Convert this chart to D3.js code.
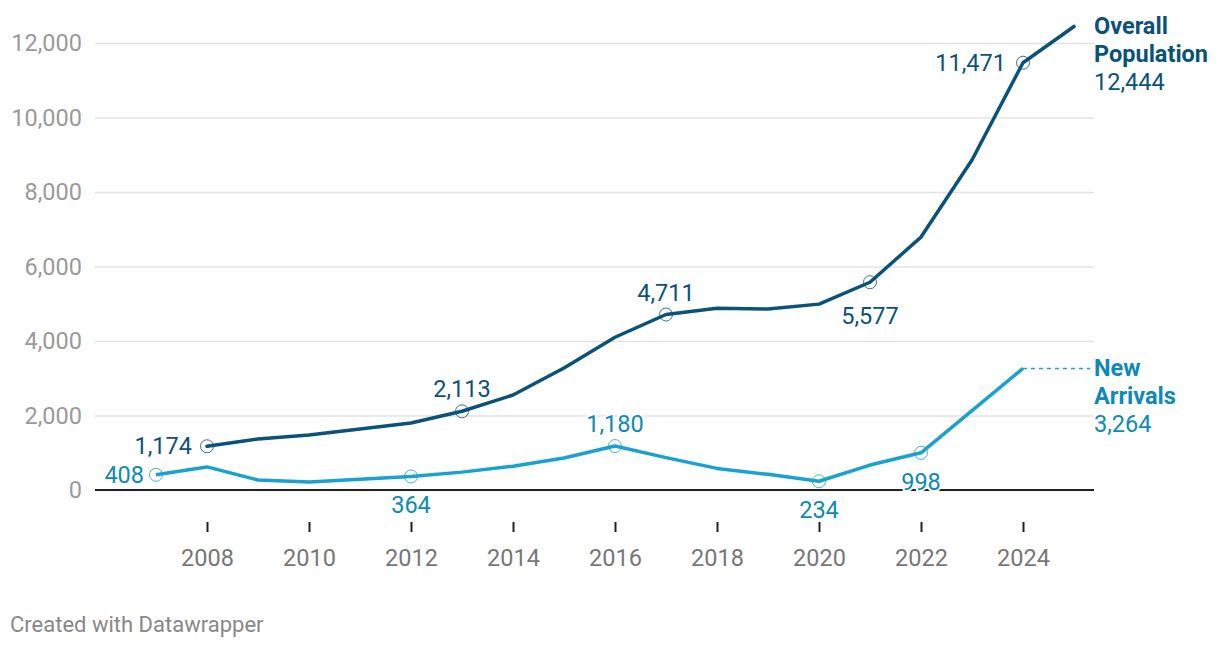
<!DOCTYPE html>
<html>
<head>
<meta charset="utf-8">
<script src="https://cdn.jsdelivr.net/npm/d3@7"></script>
<style>
  body { margin: 0; background: #fff; font-family: Roboto, "Noto Sans", sans-serif; }
  svg text { font-family: Roboto, "Noto Sans", sans-serif; }
</style>
</head>
<body>
<svg id="chart" width="1220" height="648"></svg>
<script>
// data
var popYears = [2008, 2009, 2010, 2011, 2012, 2013, 2014, 2015, 2016, 2017, 2018, 2019, 2020, 2021, 2022, 2023, 2024, 2025];
var popValues = [1174, 1370, 1475, 1640, 1800, 2113, 2550, 3275, 4100, 4711, 4880, 4860, 4990, 5577, 6790, 8860, 11471, 12444];

var arrYears = [2007, 2008, 2009, 2010, 2011, 2012, 2013, 2014, 2015, 2016, 2017, 2018, 2019, 2020, 2021, 2022, 2023, 2024];
var arrValues = [408, 620, 270, 215, 290, 364, 480, 640, 860, 1180, 870, 580, 420, 234, 670, 998, 2130, 3264];

var xTicks = [2008, 2010, 2012, 2014, 2016, 2018, 2020, 2022, 2024];
var yTicks = [0, 2000, 4000, 6000, 8000, 10000, 12000];

// annotated points: [year, value, dx, dy, anchor]
var popNotes = [[2008, 1174, -15, 8, "end"], [2013, 2113, 0, -14, "middle"], [2017, 4711, 0, -14, "middle"],
                [2021, 5577, 0, 42, "middle"], [2024, 11471, -17, 8, "end"]];
var arrNotes = [[2007, 408, -12, 8, "end"], [2012, 364, 0, 37, "middle"], [2016, 1180, 0, -14, "middle"],
                [2020, 234, 0, 37, "middle"], [2022, 998, 0, 37, "middle"]];

var darkBlue = "#0b5279";
var lightBlue = "#19a2d0";
var lightText = "#0e8ab5";

var svg = d3.select("#chart");
var left = 95, right = 1094;

var x = d3.scaleLinear().domain([2007, 2025]).range([156, 1074]);
var y = d3.scaleLinear().domain([0, 12000]).range([490, 43]);
var fmt = d3.format(",");

// gridlines + y labels
var yAxis = svg.append("g")
    .attr("transform", "translate(" + left + ",0)")
    .call(d3.axisLeft(y).tickValues(yTicks).tickSize(-(right - left)).tickFormat(fmt).tickPadding(13));
yAxis.select(".domain").remove();
yAxis.selectAll("line").attr("stroke", "#e3e3e3").attr("stroke-width", 1.5);
yAxis.selectAll("text").attr("fill", "#9a9a9a").style("font-size", "23.5px");

// x axis ticks
var xAxis = svg.append("g")
    .attr("transform", "translate(0,522)")
    .call(d3.axisBottom(x).tickValues(xTicks).tickFormat(d3.format("d")).tickSize(10).tickPadding(17));
xAxis.select(".domain").remove();
xAxis.selectAll("line").attr("stroke", "#222").attr("stroke-width", 2);
xAxis.selectAll("text").attr("fill", "#777").style("font-size", "23.5px");

// baseline
svg.append("line")
    .attr("x1", left).attr("x2", right)
    .attr("y1", y(0)).attr("y2", y(0))
    .attr("stroke", "#222").attr("stroke-width", 2);

var line = d3.line()
    .x(function(d) { return x(d[0]); })
    .y(function(d) { return y(d[1]); });

var popData = d3.zip(popYears, popValues);
var arrData = d3.zip(arrYears, arrValues);

// dotted connector to the new arrivals label
svg.append("line")
    .attr("x1", x(2024)).attr("x2", right - 4)
    .attr("y1", y(3264)).attr("y2", y(3264))
    .attr("stroke", lightBlue).attr("stroke-width", 1.5)
    .attr("stroke-dasharray", "4,4");

svg.append("path")
    .datum(arrData)
    .attr("fill", "none")
    .attr("stroke", lightBlue)
    .attr("stroke-width", 3.5)
    .attr("stroke-linejoin", "round")
    .attr("d", line);

svg.append("path")
    .datum(popData)
    .attr("fill", "none")
    .attr("stroke", darkBlue)
    .attr("stroke-width", 3.5)
    .attr("stroke-linejoin", "round")
    .attr("stroke-linecap", "round")
    .attr("d", line);

function notes(list, stroke, textColor) {
    var g = svg.append("g");
    g.selectAll("circle").data(list).enter().append("circle")
        .attr("cx", function(d) { return x(d[0]); })
        .attr("cy", function(d) { return y(d[1]); })
        .attr("r", 6.5)
        .attr("fill", "none")
        .attr("stroke", stroke)
        .attr("stroke-opacity", 0.8)
        .attr("stroke-width", 1);
    g.selectAll("text").data(list).enter().append("text")
        .attr("x", function(d) { return x(d[0]) + d[2]; })
        .attr("y", function(d) { return y(d[1]) + d[3]; })
        .attr("text-anchor", function(d) { return d[4]; })
        .attr("fill", textColor)
        .attr("stroke", "#fff")
        .attr("stroke-width", 4)
        .attr("paint-order", "stroke")
        .style("font-size", "23.5px")
        .text(function(d) { return fmt(d[1]); });
}
notes(popNotes, darkBlue, darkBlue);
notes(arrNotes, lightBlue, lightText);

// series labels at the right
function seriesLabel(lines, value, top, color) {
    var t = svg.append("text").attr("x", 1094).attr("y", top).attr("fill", color).style("font-size", "23.5px");
    lines.forEach(function(s, i) {
        t.append("tspan").attr("x", 1094).attr("dy", i ? 28 : 0).style("font-weight", "bold").text(s);
    });
    t.append("tspan").attr("x", 1094).attr("dy", 28).text(fmt(value));
}
seriesLabel(["Overall", "Population"], 12444, 34, darkBlue);
seriesLabel(["New", "Arrivals"], 3264, 376, lightText);

// footer
svg.append("text")
    .attr("x", 10).attr("y", 632)
    .attr("fill", "#888")
    .style("font-size", "22px")
    .text("Created with Datawrapper");
</script>
</body>
</html>
